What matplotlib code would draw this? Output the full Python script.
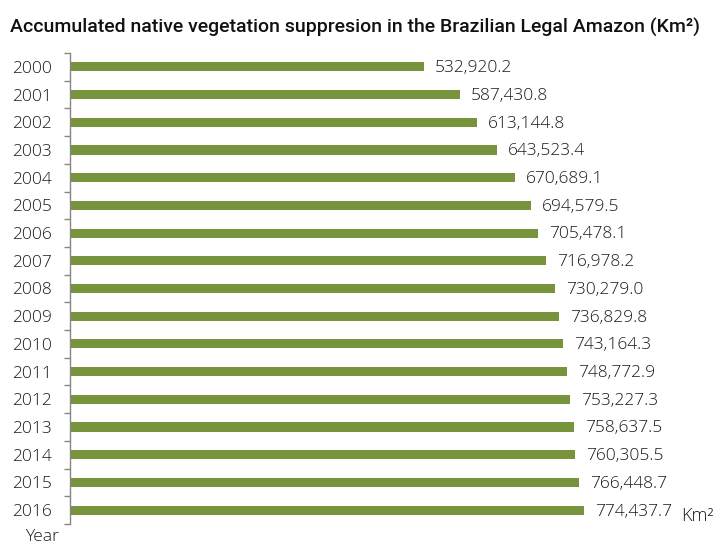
#!/usr/bin/env python3

import matplotlib
matplotlib.use('Agg')
import matplotlib.pyplot as plt
import numpy as np

################################################################################

years = ['2000', '2001', '2002', '2003', '2004', '2005', '2006', '2007', '2008',
         '2009', '2010', '2011', '2012', '2013', '2014', '2015', '2016']
suppression_km2 = [532920.2, 587430.8, 613144.8, 643523.4, 670689.1, 694579.5,
                   705478.1, 716978.2, 730279.0, 736829.8, 743164.3, 748772.9,
                   753227.3, 758637.5, 760305.5, 766448.7, 774437.7]

title = 'Accumulated native vegetation suppresion in the Brazilian Legal Amazon (Km²)'

bar_colour = '#77933c'
axis_colour = '#868686'
text_colour = '#1a1a1a'
label_font = 'Open Sans'

################################################################################

def main():

	fig = plt.figure(figsize = (7.17, 5.44), dpi = 100)
	ax = fig.add_axes([70 / 717, 1 - 524 / 544, 611 / 717, (524 - 53) / 544])

	# first year at the top, like a table
	pos = np.arange(len(years))
	ax.barh(pos, suppression_km2, height = 0.33, color = bar_colour, zorder = 2)
	ax.set_ylim(len(years) - 0.5, -0.5)

	# scale chosen so the longest bar ends about 3/4 of the way across
	ax.set_xlim(0, max(suppression_km2) * 611 / 514)

	for p, v in zip(pos, suppression_km2):
		ax.annotate(f'{v:,.1f}', xy = (v, p), xytext = (8, -1),
		            textcoords = 'offset points', va = 'center', ha = 'left',
		            fontsize = 12.5, family = label_font, fontweight = 'light',
		            color = text_colour)

	# unit next to the last value
	ax.annotate('Km²', xy = (suppression_km2[-1], pos[-1]), xytext = (70, -4),
	            textcoords = 'offset points', va = 'center', ha = 'left',
	            fontsize = 13, family = label_font, fontweight = 'light',
	            color = text_colour)

	# category ticks sit on the boundaries between bars
	ax.set_yticks(pos)
	ax.set_yticklabels(years, family = label_font, fontsize = 12.5,
	                   fontweight = 'light', color = text_colour)
	ax.set_yticks(np.arange(len(years) + 1) - 0.5, minor = True)
	ax.tick_params(axis = 'y', which = 'major', length = 0, pad = 13)
	ax.tick_params(axis = 'y', which = 'minor', length = 4, width = 1, color = axis_colour)
	ax.set_xticks([])

	for side in ['top', 'right', 'bottom']:
		ax.spines[side].set_visible(False)
	ax.spines['left'].set_color(axis_colour)
	ax.spines['left'].set_linewidth(1)

	fig.text(25 / 717, 1 - 537 / 544, 'Year', family = label_font, fontsize = 12.5,
	         fontweight = 'light', color = text_colour, va = 'center', ha = 'left')
	fig.text(10 / 717, 1 - 27 / 544, title, family = 'Roboto', fontweight = 'medium',
	         fontsize = 14, color = '#111111', va = 'center', ha = 'left')

	fig.savefig('out.png', dpi = 100)

################################################################################

if __name__ == '__main__':
	main()
